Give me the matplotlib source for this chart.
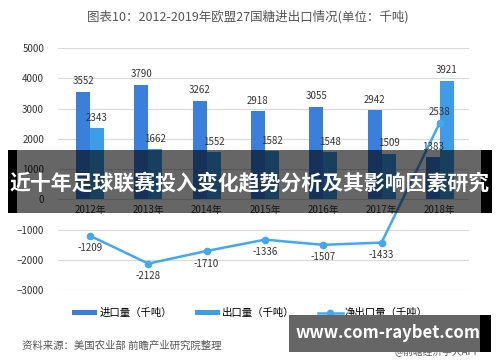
import numpy as np
import matplotlib.pyplot as plt
from matplotlib.patches import Rectangle

plt.rcParams['font.family'] = ['Noto Sans CJK SC', 'DejaVu Sans']

years = ['2012年', '2013年', '2014年', '2015年', '2016年', '2017年', '2018年']
imports = [3552, 3790, 3262, 2918, 3055, 2942, 1383]
exports = [2343, 1662, 1552, 1582, 1548, 1509, 3921]
net = [-1209, -2128, -1710, -1336, -1507, -1433, 2538]

c_imp = '#3b7fdc'
c_exp = '#3d9de9'
c_net = '#42a8f0'
txt = '#333333'

fig = plt.figure(figsize=(5, 3.62), dpi=100)
ax = fig.add_axes([0.116, 0.199, 0.822, 0.668])

x = np.arange(len(years))
w = 0.24
b1 = ax.bar(x - w / 2, imports, w, color=c_imp, zorder=2, label='进口量（千吨）')
b2 = ax.bar(x + w / 2, exports, w, color=c_exp, zorder=2, label='出口量（千吨）')
l1, = ax.plot(x, net, color=c_net, lw=1.8, marker='o', ms=4.5, zorder=3, label='净出口量（千吨）')

for i in range(len(x)):
    ax.text(x[i] - w / 2, imports[i] + 180, str(imports[i]), ha='center', va='bottom', fontsize=7, color=txt)
    ax.text(x[i] + w / 2, exports[i] + 180, str(exports[i]), ha='center', va='bottom', fontsize=7, color=txt)
    if net[i] < 0:
        ax.text(x[i], net[i] - 250, str(net[i]), ha='center', va='top', fontsize=7, color=txt)
    else:
        ax.text(x[i], net[i] + 180, str(net[i]), ha='center', va='bottom', fontsize=7, color=txt)

ax.set_ylim(-3000, 5000)
ax.set_xlim(-0.55, 6.5)
ax.set_yticks(range(-3000, 5001, 1000))
ax.tick_params(axis='y', length=0, labelsize=7, labelcolor=txt, pad=10)
ax.set_xticks(x)
ax.set_xticklabels(years)
ax.tick_params(axis='x', length=0, labelsize=7, labelcolor=txt, pad=4)
ax.spines['bottom'].set_position(('data', 0))
for s in ['top', 'right', 'left', 'bottom']:
    ax.spines[s].set_visible(False)
ax.grid(axis='y', color='#d9d9d9', lw=0.8, zorder=0)
ax.set_axisbelow(True)

fig.text(0.496, 0.955, '图表10：2012-2019年欧盟27国糖进出口情况(单位：千吨)', ha='center', va='center',
         fontsize=9, color='#555555')

fig.legend(handles=[b1, b2, l1], loc='center', bbox_to_anchor=(0.5, 0.135), ncol=3, frameon=False,
           fontsize=7.5, handlelength=2.4, handleheight=0.4, columnspacing=2.2, handletextpad=0.2)

fig.text(0.044, 0.044, '资料来源：美国农业部 前瞻产业研究院整理', fontsize=7.5, style='italic',
         color='#555555', va='center')
fig.text(0.96, 0.028, '@前瞻经济学人APP', fontsize=7, color='#555555', ha='right', va='center')

# overlay banner across the middle
fig.patches.append(Rectangle((0.016, 1 - 213 / 362), 0.968, 63 / 362, transform=fig.transFigure,
                             facecolor='black', alpha=0.6, zorder=10))
fig.patches.append(Rectangle((0.016, 1 - 213 / 362), 0.018, 63 / 362, transform=fig.transFigure,
                             facecolor='black', zorder=10))
fig.patches.append(Rectangle((0.962, 1 - 213 / 362), 0.022, 63 / 362, transform=fig.transFigure,
                             facecolor='black', zorder=10))
fig.text(0.5, 1 - 184 / 362, '近十年足球联赛投入变化趋势分析及其影响因素研究', ha='center', va='center',
         fontsize=15, fontweight='bold', color='white', zorder=11)

# watermark box bottom right
fig.patches.append(Rectangle((0.578, 1 - 352 / 362), 0.404, 37 / 362, transform=fig.transFigure,
                             facecolor='#666666', zorder=10))
fig.patches.append(Rectangle((0.96, 1 - 352 / 362), 0.022, 37 / 362, transform=fig.transFigure,
                             facecolor='black', zorder=10))
fig.text(0.776, 1 - 333 / 362, 'www.com-raybet.com', ha='center', va='center',
         fontsize=12, fontweight='bold', color='white', zorder=11)

fig.savefig('out.png', dpi=100)
